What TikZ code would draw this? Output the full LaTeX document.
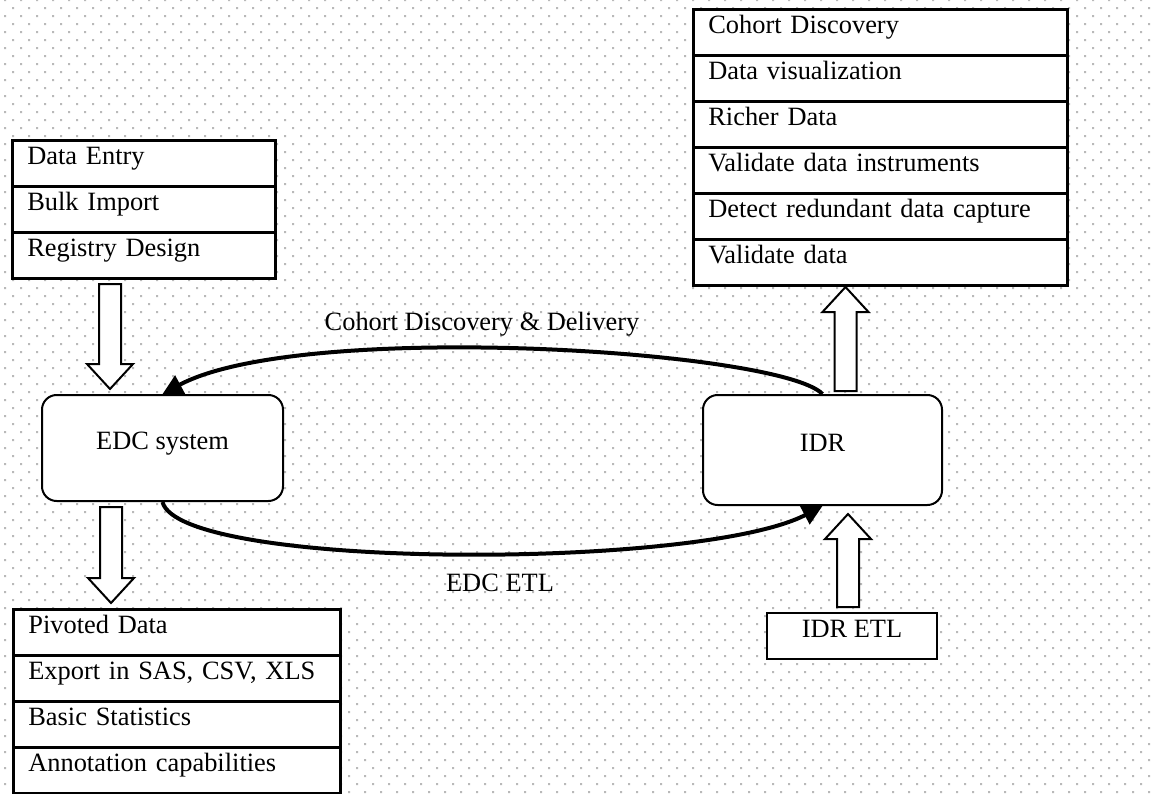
\documentclass[tikz,border=0pt]{standalone}
\usepackage{fontspec}
\setmainfont{Liberation Serif}
\usetikzlibrary{arrows.meta}
\definecolor{dotc}{RGB}{185,185,185}
\newcommand\blockarrowv[3]{% x, y tail, y tip
  \pgfmathsetmacro\bkhb{#3+25*sign(#2-#3)}
  \draw[blk] ({#1-11},#2) -- ({#1-11},\bkhb) -- ({#1-23},\bkhb) -- (#1,#3) -- ({#1+23},\bkhb) -- ({#1+11},\bkhb) -- ({#1+11},#2) -- cycle;}
\begin{document}
\begin{tikzpicture}[x=0.75pt,y=-0.75pt,
  every node/.style={font=\fontsize{19.8}{23.6}\selectfont},
  cell/.style={draw, line width=2pt, fill=white, anchor=north west, minimum height=34.5pt,
    inner xsep=11.25pt, inner ysep=0pt, align=left, text height=13.8pt, text depth=11.8pt},
  rbox/.style={draw, line width=1.5pt, fill=white, rounded corners=11pt, inner sep=0pt,
    text height=13.8pt, text depth=11.8pt},
  sbox/.style={draw, line width=2pt, fill=white, inner sep=0pt,
    text height=13.8pt, text depth=11.8pt},
  blk/.style={draw, line width=1.5pt, fill=white, line join=miter},
  conn/.style={line width=3pt, -{Triangle[length=15pt,width=15pt]}},
  lab/.style={anchor=base, inner sep=0pt}
]
\useasboundingbox (0,0) rectangle (1156,793);
\fill[white] (0,0) rectangle (1156,793);
% dotted background grid
\fill[dotc] \foreach \i in {0,...,72} {\foreach \j in {0,...,49} {
  ({5+16*\i-1},{16*\j-1}) rectangle +(2,2) ({13+16*\i-1},{8+16*\j-1}) rectangle +(2,2)}};

% input list
\foreach [count=\i] \t in {Data Entry,Bulk Import,Registry Design}
  \node[cell, text width=174.75pt] (in\i) at (11,{139+46*(\i-1)}) {\t};
% output list
\foreach [count=\i] \t in {Pivoted Data,{Export in SAS, CSV, XLS},Basic Statistics,Annotation capabilities}
  \node[cell, text width=222.75pt] (out\i) at (12,{608+46*(\i-1)}) {\t};
% IDR features list
\foreach [count=\i] \t in {Cohort Discovery,Data visualization,Richer Data,Validate data instruments,Detect redundant data capture,Validate data}
  \node[cell, text width=258pt] (feat\i) at (692,{8+46*(\i-1)}) {\t};

% main systems
\node[rbox, minimum width=180.75pt, minimum height=79.5pt] (edc) at (162.5,448) {EDC system};
\node[rbox, minimum width=179.25pt, minimum height=82.5pt] (idr) at (822.5,450) {IDR};
\node[sbox, minimum width=127.5pt, minimum height=34.5pt] (etl) at (852,636) {IDR ETL};

% block arrows
\blockarrowv{110}{284}{389}
\blockarrowv{111}{507}{603}
\blockarrowv{845.5}{391}{287}
\blockarrowv{848}{607}{514}

% curved connectors
\draw[conn] (idr.north) .. controls (780,350) and (300,320) .. (edc.north);
\draw[conn] (edc.south) .. controls (180,570) and (700,570) .. (idr.south);

% labels
\node[lab] (lab1) at (482,330) {Cohort Discovery \& Delivery};
\node[lab] (lab2) at (500,591.5) {EDC ETL};
\end{tikzpicture}
\end{document}
